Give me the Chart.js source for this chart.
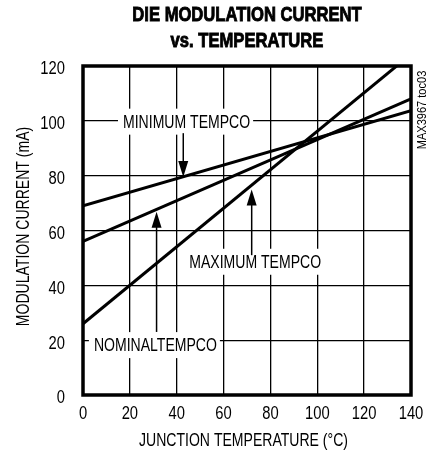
<!DOCTYPE html>
<html>
<head>
<meta charset="utf-8">
<script src="https://cdn.jsdelivr.net/npm/chart.js@4.4.0/dist/chart.umd.min.js"></script>
<style>
  body { margin: 0; background: #fff; }
  #wrap { width: 433px; height: 460px; position: relative; }
</style>
</head>
<body>
<div id="wrap"><canvas id="myChart" width="433" height="460"></canvas></div>
<script>
const FONT = "'Liberation Sans', Arial, sans-serif";
const NARROW = 0.78; // fake a condensed face

// data
const temps = [0, 140];
const minTempco = [69, 103.7];
const nomTempco = [56, 108];
const maxTempco = [26, 124.3];
const xTicks = [0, 20, 40, 60, 80, 100, 120, 140];
const yTicks = [0, 20, 40, 60, 80, 100, 120];

// callouts (data units)
const calloutText = ['MINIMUM TEMPCO', 'MAXIMUM TEMPCO', 'NOMINALTEMPCO'];
const calloutX = [44.2, 73.5, 30.9];
const calloutY = [99.7, 48.6, 18.2];
const arrowX = [42.8, 72, 31.4];
const arrowFrom = [95.5, 51, 23];
const arrowTo = [79.5, 75, 66.8];

function pts(ys) {
  return temps.map((t, i) => ({x: t, y: ys[i]}));
}

// draw squeezed text, anchor at x,y
function txt(c, s, x, y, font, sx, align, rot, heavy) {
  c.save();
  c.translate(x, y);
  if (rot) c.rotate(rot);
  c.scale(sx, 1);
  c.font = font;
  c.textAlign = align || 'center';
  c.textBaseline = 'middle';
  c.fillStyle = '#000';
  c.fillText(s, 0, 0);
  if (heavy) {
    c.strokeStyle = '#000';
    c.lineWidth = heavy;
    c.strokeText(s, 0, 0);
  }
  c.restore();
}

const extras = {
  id: 'extras',
  beforeDatasetsDraw(chart) {
    const c = chart.ctx, xs = chart.scales.x, ys = chart.scales.y;
    c.save();
    const f = '18px ' + FONT;
    c.font = f;
    calloutText.forEach((t, i) => {
      const px = xs.getPixelForValue(calloutX[i]);
      const py = ys.getPixelForValue(calloutY[i]);
      const w = c.measureText(t).width * NARROW;
      c.fillStyle = '#fff';
      c.fillRect(px - w / 2 - 5, py - 13, w + 8, 26);
      txt(c, t, px, py + 1, f, NARROW);
    });
    // arrows
    c.strokeStyle = '#000';
    c.lineWidth = 1.5;
    arrowX.forEach((ax, i) => {
      const px = xs.getPixelForValue(ax);
      const y0 = ys.getPixelForValue(arrowFrom[i]);
      const y1 = ys.getPixelForValue(arrowTo[i]);
      const dir = y1 > y0 ? 1 : -1;
      c.beginPath();
      c.moveTo(px, y0);
      c.lineTo(px, y1 - dir * 14);
      c.stroke();
      c.beginPath();
      c.moveTo(px, y1);
      c.lineTo(px - 5, y1 - dir * 16);
      c.lineTo(px + 5, y1 - dir * 16);
      c.closePath();
      c.fillStyle = '#000';
      c.fill();
    });
    c.restore();
  },
  afterDraw(chart) {
    const c = chart.ctx, a = chart.chartArea, xs = chart.scales.x, ys = chart.scales.y;
    c.save();
    c.strokeStyle = '#000';
    c.lineWidth = 3.5;
    c.strokeRect(a.left, a.top, a.right - a.left, a.bottom - a.top);
    c.restore();

    // tick labels off the scales
    const tf = '18px ' + FONT;
    xs.ticks.forEach(t => txt(c, String(t.value), xs.getPixelForValue(t.value), a.bottom + 19, tf, 0.82));
    ys.ticks.forEach(t => txt(c, String(t.value), a.left - 18, ys.getPixelForValue(t.value) + 3.5, tf, 0.82, 'right'));

    // axis titles
    txt(c, 'JUNCTION TEMPERATURE (°C)', (a.left + a.right) / 2 - 3.5, 441, tf, NARROW);
    txt(c, 'MODULATION CURRENT (mA)', 24, (a.top + a.bottom) / 2 - 4, tf, NARROW, 'center', -Math.PI / 2);

    // title
    const cx = (a.left + a.right) / 2;
    const bf = 'bold 20px ' + FONT;
    txt(c, 'DIE MODULATION CURRENT', cx, 15, bf, 0.83, 'center', 0, 0.9);
    txt(c, 'vs. TEMPERATURE', cx, 41, bf, 0.83, 'center', 0, 0.9);

    // side note
    txt(c, 'MAX3967 toc03', 422, 110, '13px ' + FONT, 0.85, 'center', -Math.PI / 2);
  }
};

const ctx = document.getElementById('myChart');

new Chart(ctx, {
  type: 'line',
  data: {
    datasets: [
      {label: 'Minimum', data: pts(minTempco)},
      {label: 'Nominal', data: pts(nomTempco)},
      {label: 'Maximum', data: pts(maxTempco)}
    ]
  },
  options: {
    responsive: false,
    animation: false,
    events: [],
    elements: {
      line: {borderColor: '#000', borderWidth: 3, tension: 0},
      point: {radius: 0}
    },
    layout: {padding: {left: 0, right: 22, top: 66, bottom: 0}},
    plugins: {legend: {display: false}, title: {display: false}, tooltip: {enabled: false}},
    scales: {
      x: {
        type: 'linear',
        min: 0, max: 140,
        afterBuildTicks: s => { s.ticks = xTicks.map(v => ({value: v})); },
        afterFit: s => { s.height = 65; },
        grid: {color: '#000', lineWidth: 1.3, drawTicks: false},
        border: {display: false},
        ticks: {display: false}
      },
      y: {
        min: 0, max: 120,
        afterBuildTicks: s => { s.ticks = yTicks.map(v => ({value: v})); },
        afterFit: s => { s.width = 83; },
        grid: {color: '#000', lineWidth: 1.3, drawTicks: false},
        border: {display: false},
        ticks: {display: false}
      }
    }
  },
  plugins: [extras]
});
</script>
</body>
</html>
